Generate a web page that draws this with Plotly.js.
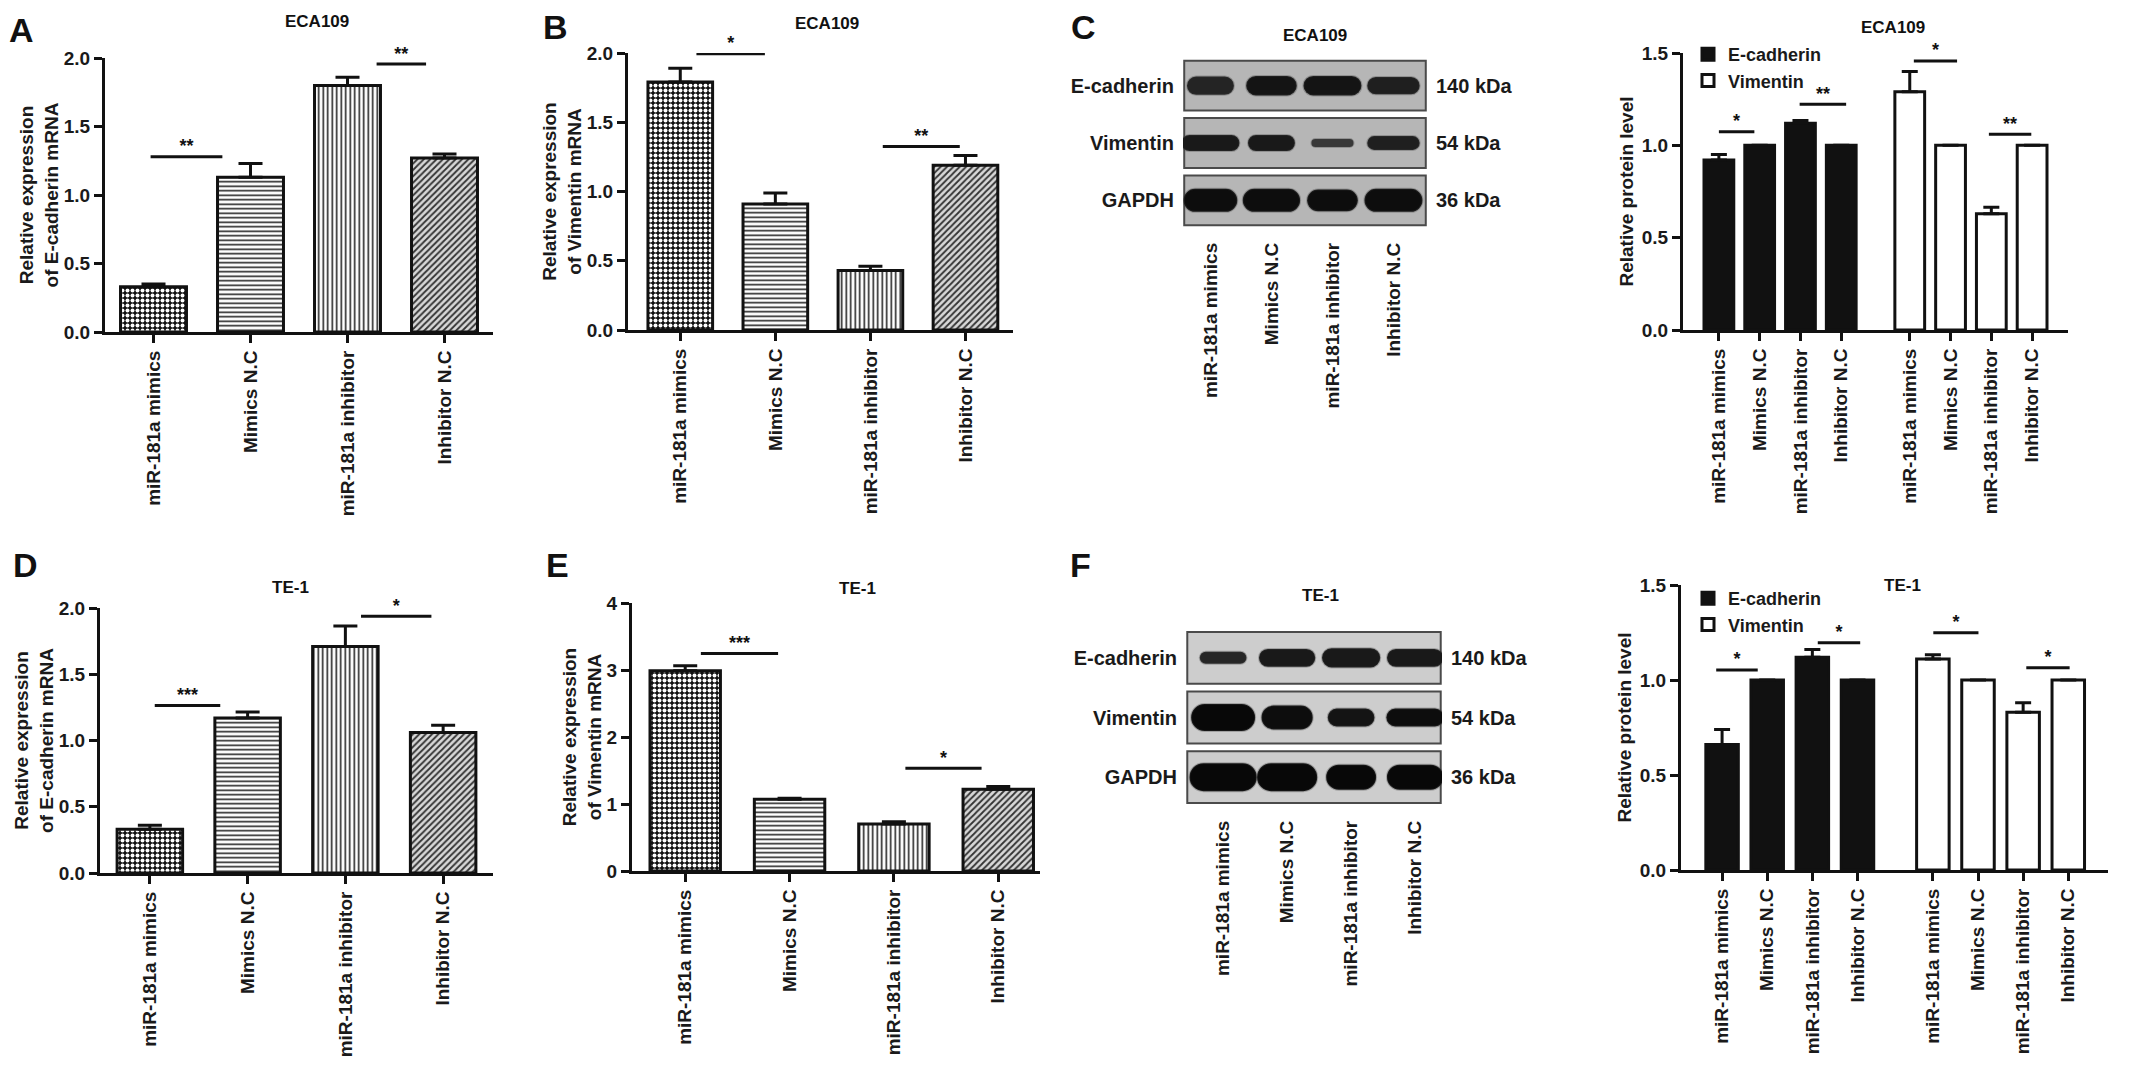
<!DOCTYPE html>
<html>
<head>
<meta charset="utf-8">
<script src="https://cdn.plot.ly/plotly-3.0.1.min.js"></script>
<style>
  html, body { margin: 0; padding: 0; background: #fff; }
  #fig { width: 2150px; height: 1079px; }
</style>
</head>
<body>
<div id="fig"></div>
<script>
// ---- data ----
var cats = ['miR-181a mimics', 'Mimics N.C', 'miR-181a inhibitor', 'Inhibitor N.C'];

// ECA109 mRNA
var ecaEcadMrna    = [0.33, 1.13, 1.80, 1.27];
var ecaEcadMrnaErr = [0.02, 0.10, 0.06, 0.03];
var ecaVimMrna     = [1.79, 0.91, 0.43, 1.19];
var ecaVimMrnaErr  = [0.10, 0.08, 0.03, 0.07];
// ECA109 protein
var ecaEcadProt    = [0.92, 1.00, 1.12, 1.00];
var ecaEcadProtErr = [0.03, 0, 0.015, 0];
var ecaVimProt     = [1.29, 1.00, 0.63, 1.00];
var ecaVimProtErr  = [0.11, 0, 0.035, 0];
// TE-1 mRNA
var teEcadMrna     = [0.33, 1.17, 1.71, 1.06];
var teEcadMrnaErr  = [0.03, 0.045, 0.155, 0.055];
var teVimMrna      = [2.99, 1.07, 0.70, 1.22];
var teVimMrnaErr   = [0.075, 0.015, 0.035, 0.04];
// TE-1 protein
var teEcadProt     = [0.66, 1.00, 1.12, 1.00];
var teEcadProtErr  = [0.08, 0, 0.04, 0];
var teVimProt      = [1.11, 1.00, 0.83, 1.00];
var teVimProtErr   = [0.023, 0, 0.05, 0];

// significance bars: [from, to, level, label]
var sigA = [[-0.03, 0.71, 1.28, '**'], [2.30, 2.81, 1.956, '**']];
var sigB = [[0.17, 0.89, 1.995, '*'], [2.13, 2.94, 1.325, '**']];
var sigC = [[0.0, 0.87, 1.073, '*'], [1.98, 3.12, 1.222, '**'], [4.78, 5.84, 1.457, '*'], [6.62, 7.66, 1.06, '**']];
var sigD = [[0.05, 0.72, 1.265, '***'], [2.16, 2.88, 1.937, '*']];
var sigE = [[0.15, 0.89, 3.245, '***'], [2.11, 2.84, 1.533, '*']];
var sigF = [[-0.13, 0.79, 1.053, '*'], [2.12, 3.06, 1.196, '*'], [4.68, 5.68, 1.249, '*'], [6.74, 7.70, 1.065, '*']];

// western blots
var blotRows = ['E-cadherin', 'Vimentin', 'GAPDH'];
var blotKda = ['140 kDa', '54 kDa', '36 kDa'];
// band width (lane units), thickness (row units), darkness 0..1
var ecaBandW = [[0.77, 0.83, 0.95, 0.86], [0.95, 0.77, 0.69, 0.86], [0.88, 0.94, 0.83, 0.95]];
var ecaBandH = [[0.32, 0.34, 0.34, 0.30], [0.28, 0.28, 0.14, 0.24], [0.40, 0.40, 0.38, 0.40]];
var ecaBandD = [[0.86, 0.92, 0.92, 0.88], [0.90, 0.90, 0.78, 0.88], [0.95, 0.95, 0.95, 0.95]];
var teBandW = [[0.73, 0.88, 0.91, 0.88], [1.00, 0.80, 0.73, 0.90], [1.05, 0.94, 0.78, 0.88]];
var teBandH = [[0.20, 0.30, 0.32, 0.30], [0.45, 0.40, 0.30, 0.30], [0.47, 0.47, 0.42, 0.42]];
var teBandD = [[0.85, 0.90, 0.90, 0.90], [0.97, 0.95, 0.92, 0.95], [0.97, 0.97, 0.97, 0.97]];

// ---- style ----
var W = 2150, H = 1079;
var FAM = 'Liberation Sans, Arial, sans-serif';
var INK = '#111';
var TXT = '#1a1a1a';
var patShape = ['.', '-', '|', '/'];
var patFg = ['#ffffff', '#222222', '#222222', '#333333'];
var patBg = ['#111111', '#ffffff', '#ffffff', '#d8d8d8'];
var patSize = [5, 4.5, 4.5, 4.5];
var patSolid = [0.5, 0.35, 0.35, 0.4];

function px(x) { return x / W; }
function py(y) { return 1 - y / H; }
function ax(n) { return n === 1 ? '' : String(n); }

var traces = [];
var layout = {
  width: W, height: H,
  margin: {l: 0, r: 0, t: 0, b: 0},
  paper_bgcolor: '#fff', plot_bgcolor: 'rgba(0,0,0,0)',
  barmode: 'overlay',
  font: {family: FAM, color: INK},
  showlegend: true,
  annotations: []
};

function plotAxes(n, xpx, ypx, xr, yr, dtick, fmt, ytitle, tickvals, ticktext) {
  layout['xaxis' + ax(n)] = {
    domain: [px(xpx[0]), px(xpx[1])], anchor: 'y' + ax(n), range: xr,
    showline: true, linecolor: INK, linewidth: 3,
    ticks: 'outside', ticklen: 8, tickwidth: 3, tickcolor: INK,
    tickvals: tickvals, ticktext: ticktext, tickangle: -90,
    tickfont: {size: 19, weight: 'bold', color: TXT},
    showgrid: false, zeroline: false, fixedrange: true
  };
  layout['yaxis' + ax(n)] = {
    domain: [py(ypx[1]), py(ypx[0])], anchor: 'x' + ax(n), range: yr,
    showline: true, linecolor: INK, linewidth: 3,
    ticks: 'outside', ticklen: 8, tickwidth: 3, tickcolor: INK,
    dtick: dtick, tickformat: fmt,
    tickfont: {size: 19, weight: 'bold', color: TXT},
    title: {text: ytitle, font: {size: 19, weight: 'bold', color: TXT}},
    showgrid: false, zeroline: false, fixedrange: true
  };
}

function errBars(err, capW) {
  return {type: 'data', array: err, arrayminus: err.map(function () { return 0; }),
    symmetric: false, color: INK, thickness: 3, width: capW};
}

function addSig(n, list) {
  list.forEach(function (s) {
    traces.push({type: 'scatter', mode: 'lines', x: [s[0], s[1]], y: [s[2], s[2]],
      xaxis: 'x' + ax(n), yaxis: 'y' + ax(n), line: {color: INK, width: 3},
      showlegend: false, hoverinfo: 'skip', cliponaxis: false});
    traces.push({type: 'scatter', mode: 'text', x: [(s[0] + s[1]) / 2], y: [s[2]],
      text: [s[3]], textposition: 'top center',
      textfont: {size: 18, weight: 'bold', color: INK},
      xaxis: 'x' + ax(n), yaxis: 'y' + ax(n),
      showlegend: false, hoverinfo: 'skip', cliponaxis: false});
  });
}

function mrnaPanel(n, vals, err, sig, barW, capW) {
  var xs = cats.map(function (c, i) { return i; });
  traces.push({
    type: 'bar', x: xs, y: vals, width: barW,
    xaxis: 'x' + ax(n), yaxis: 'y' + ax(n),
    marker: {color: '#fff', line: {color: INK, width: 3},
      pattern: {shape: patShape, fgcolor: patFg, bgcolor: patBg, size: patSize,
        solidity: patSolid, fillmode: 'replace'}},
    error_y: errBars(err, capW),
    showlegend: false, hoverinfo: 'skip'
  });
  addSig(n, sig);
}

function protPanel(n, ecad, ecadErr, vim, vimErr, sig, gap, barW, legendId) {
  var xe = cats.map(function (c, i) { return i; });
  var xv = cats.map(function (c, i) { return i + cats.length + gap; });
  traces.push({
    type: 'bar', name: 'E-cadherin', x: xe, y: ecad, width: barW,
    xaxis: 'x' + ax(n), yaxis: 'y' + ax(n), legend: legendId,
    marker: {color: INK, line: {color: INK, width: 3}},
    error_y: errBars(ecadErr, 8), hoverinfo: 'skip'
  });
  traces.push({
    type: 'bar', name: 'Vimentin', x: xv, y: vim, width: barW,
    xaxis: 'x' + ax(n), yaxis: 'y' + ax(n), legend: legendId,
    marker: {color: '#fff', line: {color: INK, width: 3}},
    error_y: errBars(vimErr, 8), hoverinfo: 'skip'
  });
  addSig(n, sig);
  return xe.concat(xv);
}

function blotPanel(n, nR, xpx, ypx, xr, bw, bh, bd, bg) {
  var rowY = blotRows.map(function (r, i) { return blotRows.length - i - 0.5; });
  var lanes = cats.map(function (c, i) { return i + 1; });
  layout['xaxis' + ax(n)] = {
    domain: [px(xpx[0]), px(xpx[1])], anchor: 'y' + ax(n), range: xr,
    showline: false, ticks: '', showgrid: false, zeroline: false, fixedrange: true,
    tickvals: lanes, ticktext: cats, tickangle: -90, ticklabelstandoff: 9,
    tickfont: {size: 19, weight: 'bold', color: TXT}
  };
  var yBase = {
    domain: [py(ypx[1]), py(ypx[0])], range: [0, blotRows.length],
    showline: false, ticks: '', showgrid: false, zeroline: false, fixedrange: true,
    tickvals: rowY, ticklabelstandoff: 8,
    tickfont: {size: 20, weight: 'bold', color: TXT}
  };
  layout['yaxis' + ax(n)] = Object.assign({}, yBase, {anchor: 'x' + ax(n), ticktext: blotRows});
  layout['yaxis' + ax(nR)] = Object.assign({}, yBase, {anchor: 'x' + ax(n), overlaying: 'y' + ax(n),
    side: 'right', ticktext: blotKda});

  // membrane strips
  traces.push({
    type: 'bar', orientation: 'h', y: rowY, base: xr[0] + 0.02,
    x: rowY.map(function () { return xr[1] - xr[0] - 0.04; }), width: 0.87,
    xaxis: 'x' + ax(n), yaxis: 'y' + ax(n),
    marker: {color: bg, line: {color: '#4a4a4a', width: 2}},
    showlegend: false, hoverinfo: 'skip', cliponaxis: false
  });
  // bands, one rounded bar per lane
  var by = [], bb = [], bwid = [], bth = [], bcol = [];
  blotRows.forEach(function (r, ri) {
    lanes.forEach(function (l, li) {
      var v = Math.round(255 * (1 - bd[ri][li]));
      by.push(rowY[ri]); bb.push(l - bw[ri][li] / 2); bwid.push(bw[ri][li]);
      bth.push(bh[ri][li]); bcol.push('rgb(' + v + ',' + v + ',' + v + ')');
    });
  });
  traces.push({
    type: 'bar', orientation: 'h', y: by, base: bb, x: bwid, width: bth,
    xaxis: 'x' + ax(n), yaxis: 'y' + ax(n),
    marker: {color: bcol, cornerradius: '50%', line: {color: 'rgba(60,60,60,0.3)', width: 2}},
    showlegend: false, hoverinfo: 'skip'
  });
  // keeps the right-hand kDa axis alive
  traces.push({type: 'scatter', mode: 'markers', x: [lanes[0]], y: [rowY[0]],
    xaxis: 'x' + ax(n), yaxis: 'y' + ax(nR), marker: {opacity: 0},
    showlegend: false, hoverinfo: 'skip'});
}

function label(x, y, text, size) {
  layout.annotations.push({xref: 'paper', yref: 'paper', x: px(x), y: py(y),
    text: text, showarrow: false, xanchor: 'center', yanchor: 'middle',
    font: {size: size, weight: 'bold', color: INK, family: FAM}});
}

var idx = cats.map(function (c, i) { return i; });
var mrnaTitleEcad = 'Relative expression<br>of E-cadherin mRNA';
var mrnaTitleVim = 'Relative expression<br>of Vimentin mRNA';

// A
plotAxes(1, [105, 493], [58, 332], [-0.5, 3.5], [0, 2], 0.5, '.1f', mrnaTitleEcad, idx, cats);
mrnaPanel(1, ecaEcadMrna, ecaEcadMrnaErr, sigA, 0.68, 12);
// B
plotAxes(2, [628, 1013], [53, 330], [-0.55, 3.5], [0, 2], 0.5, '.1f', mrnaTitleVim, idx, cats);
mrnaPanel(2, ecaVimMrna, ecaVimMrnaErr, sigB, 0.68, 12);
// C blot
blotPanel(3, 4, [1183, 1427], [57, 229], [0.55, 4.55], ecaBandW, ecaBandH, ecaBandD, '#b6b6b6');
// C bars
var cTicks = protPanel(5, ecaEcadProt, ecaEcadProtErr, ecaVimProt, ecaVimProtErr, sigC, 0.68, 0.73, 'legend');
plotAxes(5, [1683, 2068], [53, 330], [-0.88, 8.56], [0, 1.5], 0.5, '.1f', 'Relative protein level', cTicks, cats.concat(cats));
// D
plotAxes(6, [100, 493], [608, 873], [-0.51, 3.51], [0, 2], 0.5, '.1f', mrnaTitleEcad, idx, cats);
mrnaPanel(6, teEcadMrna, teEcadMrnaErr, sigD, 0.67, 12);
// E
plotAxes(7, [632, 1040], [603, 871], [-0.51, 3.4], [0, 4], 1, 'd', mrnaTitleVim, idx, cats);
mrnaPanel(7, teVimMrna, teVimMrnaErr, sigE, 0.675, 12);
// F blot
blotPanel(8, 9, [1186, 1442], [628, 807], [0.42, 4.42], teBandW, teBandH, teBandD, '#cdcdcd');
// F bars
var fTicks = protPanel(10, teEcadProt, teEcadProtErr, teVimProt, teVimProtErr, sigF, 0.67, 0.72, 'legend2');
plotAxes(10, [1681, 2108], [585, 870], [-0.91, 8.55], [0, 1.5], 0.5, '.1f', 'Relative protein level', fTicks, cats.concat(cats));

var legendStyle = {xanchor: 'left', yanchor: 'top', bgcolor: 'rgba(0,0,0,0)',
  font: {size: 18, weight: 'bold', color: TXT}, tracegroupgap: 0, itemwidth: 30};
layout.legend = Object.assign({x: px(1688), y: py(36)}, legendStyle);
layout.legend2 = Object.assign({x: px(1688), y: py(580)}, legendStyle);

// panel titles and letters
label(317, 22, 'ECA109', 17);
label(827, 23, 'ECA109', 17);
label(1315, 35, 'ECA109', 17);
label(1893, 27, 'ECA109', 17);
label(290, 587, 'TE-1', 17);
label(857, 588, 'TE-1', 17);
label(1320, 595, 'TE-1', 17);
label(1902, 585, 'TE-1', 17);
label(22, 30, 'A', 34);
label(555, 27, 'B', 34);
label(1083, 27, 'C', 34);
label(25, 565, 'D', 34);
label(557, 565, 'E', 34);
label(1080, 565, 'F', 34);

Plotly.newPlot('fig', traces, layout, {staticPlot: true, displayModeBar: false});
</script>
</body>
</html>
